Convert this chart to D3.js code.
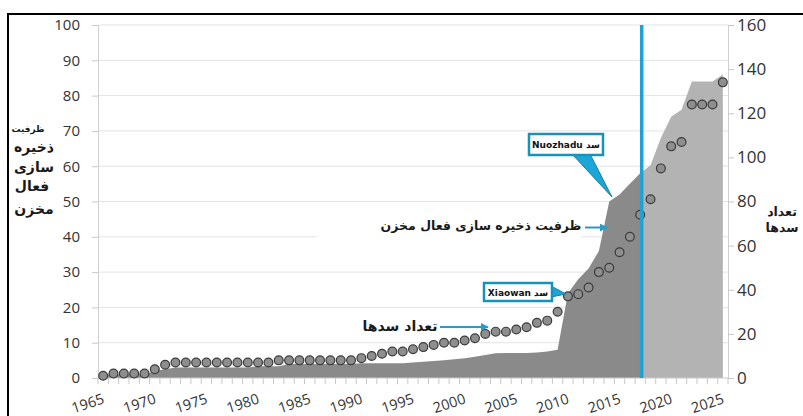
<!DOCTYPE html>
<html>
<head>
<meta charset="utf-8">
<script src="https://cdn.jsdelivr.net/npm/d3@7"></script>
<style>
  body { margin: 0; background: #fff; }
  svg { display: block; }
  .fa { font-family: "DejaVu Sans", sans-serif; font-weight: bold; fill: #1a1a1a; }
</style>
</head>
<body>
<div id="chart"></div>
<script>
// Categories (one per year)
const years = [1965, 1966, 1967, 1968, 1969, 1970, 1971, 1972, 1973, 1974,
  1975, 1976, 1977, 1978, 1979, 1980, 1981, 1982, 1983, 1984,
  1985, 1986, 1987, 1988, 1989, 1990, 1991, 1992, 1993, 1994,
  1995, 1996, 1997, 1998, 1999, 2000, 2001, 2002, 2003, 2004,
  2005, 2006, 2007, 2008, 2009, 2010, 2011, 2012, 2013, 2014,
  2015, 2016, 2017, 2018, 2019, 2020, 2021, 2022, 2023, 2024, 2025];

// Active storage capacity (left axis)
const storage = [1, 1, 1, 1, 1, 2, 2.5, 3, 3, 3,
  3, 3, 3, 3, 3, 3.3, 3.3, 3.3, 4, 4,
  4, 4, 4, 4, 4, 4.2, 4.2, 4.2, 4.2, 4.2,
  4.4, 4.6, 4.8, 5, 5.3, 5.6, 6, 6.5, 7, 7.1,
  7.1, 7.1, 7.2, 7.5, 8, 24, 28, 31, 36, 50,
  52, 55, 58, 60.3, 68, 74, 76, 84, 84, 84, 86];

// Number of dams (right axis)
const damCount = [1, 2, 2, 2, 2, 4, 6, 7, 7, 7,
  7, 7, 7, 7, 7, 7, 7, 8, 8, 8,
  8, 8, 8, 8, 8, 9, 10, 11, 12, 12,
  13, 14, 15, 16, 16, 17, 18, 20, 21, 21,
  22, 23, 25, 26, 30, 37, 38, 41, 48, 50,
  57, 64, 74, 81, 95, 105, 107, 124, 124, 124, 134];

const leftTicks = [0, 10, 20, 30, 40, 50, 60, 70, 80, 90, 100];
const rightTicks = [0, 20, 40, 60, 80, 100, 120, 140, 160];
const yearLabels = [1965, 1970, 1975, 1980, 1985, 1990, 1995, 2000, 2005, 2010, 2015, 2020, 2025];
const splitYear = 2017;

const width = 803, height = 416;
const plot = { left: 98, right: 728, top: 25, bottom: 378 };
const blue = '#1fa2d2';

const svg = d3.select('#chart').append('svg')
  .attr('width', width)
  .attr('height', height);

svg.append('rect').attr('width', width).attr('height', height).attr('fill', '#fff');

const x = d3.scaleBand().domain(years).range([plot.left, plot.right]);
const cx = d => x(d) + x.bandwidth() / 2;
const yL = d3.scaleLinear().domain([0, 100]).range([plot.bottom, plot.top]);
const yR = d3.scaleLinear().domain([0, 160]).range([plot.bottom, plot.top]);

// Gridlines
svg.append('g').selectAll('line').data(leftTicks.slice(1)).join('line')
  .attr('x1', plot.left).attr('x2', plot.right)
  .attr('y1', d => yL(d)).attr('y2', d => yL(d))
  .attr('stroke', '#e3e3e3').attr('stroke-width', 1);

// Left axis
const gL = svg.append('g').attr('transform', `translate(${plot.left},0)`)
  .call(d3.axisLeft(yL).tickValues(leftTicks).tickSize(6).tickPadding(12).tickSizeOuter(0));
gL.selectAll('text').style('font-family', '"Open Sans", sans-serif').style('font-size', '15px').attr('fill', '#333');

// Right axis
const gR = svg.append('g').attr('transform', `translate(${plot.right},0)`)
  .call(d3.axisRight(yR).tickValues(rightTicks).tickSize(6).tickPadding(3).tickSizeOuter(0));
gR.selectAll('text').style('font-family', '"Open Sans", sans-serif').style('font-size', '17px').attr('fill', '#333');

[gL, gR].forEach(g => {
  g.select('.domain').attr('stroke', '#d0d0d0');
  g.selectAll('.tick line').attr('stroke', '#c8c8c8');
});

// Area (split into darker and lighter parts at the vertical line)
const splitX = cx(splitYear) + 1.5;
const defs = svg.append('defs');
defs.append('clipPath').attr('id', 'clipDark').append('rect')
  .attr('x', 0).attr('y', 0).attr('width', splitX).attr('height', height);
defs.append('clipPath').attr('id', 'clipLight').append('rect')
  .attr('x', splitX).attr('y', 0).attr('width', width - splitX).attr('height', height);

const area = d3.area()
  .x((d, i) => cx(years[i]))
  .y0(yL(0))
  .y1(d => yL(d));

svg.append('path').datum(storage).attr('d', area)
  .attr('fill', '#8a8a8a').attr('clip-path', 'url(#clipDark)');
svg.append('path').datum(storage).attr('d', area)
  .attr('fill', '#b3b3b3').attr('clip-path', 'url(#clipLight)');

// X axis line and ticks at category boundaries
svg.append('line')
  .attr('x1', plot.left).attr('x2', plot.right)
  .attr('y1', plot.bottom).attr('y2', plot.bottom)
  .attr('stroke', '#c8c8c8');
svg.append('g').selectAll('line').data(years).join('line')
  .attr('x1', d => x(d)).attr('x2', d => x(d))
  .attr('y1', plot.bottom).attr('y2', plot.bottom + 6)
  .attr('stroke', '#c8c8c8');
svg.append('line')
  .attr('x1', plot.right).attr('x2', plot.right)
  .attr('y1', plot.bottom).attr('y2', plot.bottom + 6)
  .attr('stroke', '#c8c8c8');

svg.append('g').selectAll('text').data(yearLabels).join('text')
  .attr('transform', d => `translate(${cx(d) + 2},${plot.bottom + 25}) rotate(-18)`)
  .attr('text-anchor', 'end')
  .style('font-family', '"Open Sans", sans-serif')
  .style('font-size', '14.5px')
  .attr('fill', '#333')
  .text(d => d);

// Dam count markers
svg.append('g').selectAll('circle').data(damCount).join('circle')
  .attr('cx', (d, i) => cx(years[i]))
  .attr('cy', d => yR(d))
  .attr('r', 4.4)
  .attr('fill', '#8e8e8e')
  .attr('stroke', '#3a3a3a')
  .attr('stroke-width', 1.2);

// Vertical marker line
svg.append('line')
  .attr('x1', splitX).attr('x2', splitX)
  .attr('y1', plot.top).attr('y2', plot.bottom)
  .attr('stroke', blue).attr('stroke-width', 3.5);

// Arrow marker
defs.append('marker').attr('id', 'arrow')
  .attr('viewBox', '0 0 10 10').attr('refX', 9).attr('refY', 5)
  .attr('markerWidth', 4).attr('markerHeight', 4).attr('orient', 'auto')
  .append('path').attr('d', 'M0,0L10,5L0,10z').attr('fill', '#2a9bc8');

// Storage label with white background
svg.append('rect').attr('x', 317).attr('y', 212).attr('width', 264).attr('height', 28).attr('fill', '#fff');
svg.append('text').attr('class', 'fa')
  .attr('x', 481).attr('y', 230).attr('text-anchor', 'middle')
  .attr('direction', 'rtl')
  .style('font-size', '12.5px')
  .text('ظرفیت ذخیره سازی فعال مخزن');
svg.append('line')
  .attr('x1', 585).attr('x2', 607).attr('y1', 227.5).attr('y2', 227.5)
  .attr('stroke', '#2a9bc8').attr('stroke-width', 2).attr('marker-end', 'url(#arrow)');

// Dam count label
svg.append('text').attr('class', 'fa')
  .attr('x', 400).attr('y', 331).attr('text-anchor', 'middle')
  .attr('direction', 'rtl')
  .style('font-size', '14px')
  .text('تعداد سدها');
svg.append('line')
  .attr('x1', 440).attr('x2', 488).attr('y1', 327).attr('y2', 327)
  .attr('stroke', '#2a9bc8').attr('stroke-width', 2).attr('marker-end', 'url(#arrow)');

// Callouts
function callout(bx, by, bw, bh, wedge, name) {
  svg.append('polygon').attr('points', wedge.map(p => p.join(',')).join(' '))
    .attr('fill', '#1ba6da').attr('stroke', '#16809f').attr('stroke-width', 1);
  svg.append('rect').attr('x', bx).attr('y', by).attr('width', bw).attr('height', bh)
    .attr('fill', '#fff').attr('stroke', '#1593ba').attr('stroke-width', 2.5);
  svg.append('text')
    .attr('x', bx + bw / 2).attr('y', by + bh / 2 + 3.5)
    .attr('text-anchor', 'middle').attr('direction', 'rtl')
    .style('font-family', '"DejaVu Sans", sans-serif').style('font-weight', 'bold')
    .style('font-size', '9px').attr('fill', '#111')
    .text('سد ' + name);
}
callout(529, 134, 74, 21, [[572, 154], [590, 154], [612, 197]], 'Nuozhadu');
callout(484, 283, 68, 18, [[551, 286], [551, 297], [566, 294]], 'Xiaowan');

// Left axis title
const leftTitle = [
  { t: 'ظرفیت', y: 132, s: 9, x: 28 },
  { t: 'ذخیره', y: 152, s: 14, x: 34 },
  { t: 'سازی', y: 172, s: 14, x: 34 },
  { t: 'فعال', y: 191, s: 14, x: 32 },
  { t: 'مخزن', y: 214, s: 14, x: 34 }
];
svg.append('g').selectAll('text').data(leftTitle).join('text')
  .attr('class', 'fa')
  .attr('x', d => d.x).attr('y', d => d.y)
  .attr('text-anchor', 'middle')
  .style('font-size', d => d.s + 'px')
  .text(d => d.t);

// Right axis title
svg.append('g').selectAll('text').data([{ t: 'تعداد', y: 216 }, { t: 'سدها', y: 232 }]).join('text')
  .attr('class', 'fa')
  .attr('x', 782).attr('y', d => d.y)
  .attr('text-anchor', 'middle')
  .style('font-size', '12.5px')
  .text(d => d.t);

// Outer frame
svg.append('rect').attr('x', 8).attr('y', 14).attr('width', 820).attr('height', 420)
  .attr('fill', 'none').attr('stroke', '#000').attr('stroke-width', 2);
</script>
</body>
</html>
